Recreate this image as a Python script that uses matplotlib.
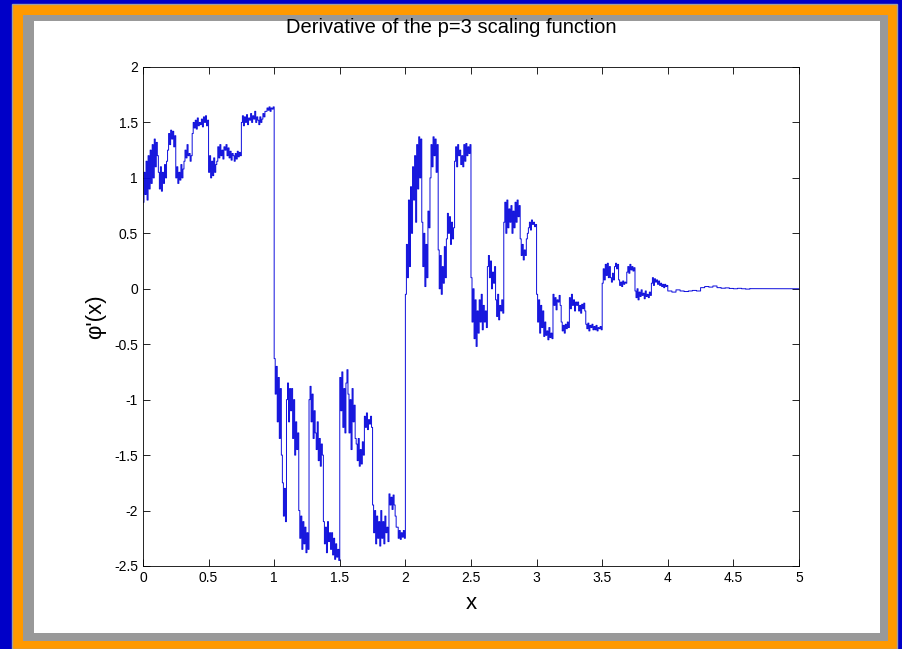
import matplotlib
matplotlib.use("Agg")
import matplotlib.pyplot as plt
import numpy as np
from matplotlib.patches import Rectangle

plt.rcParams["font.family"] = ["Liberation Sans", "DejaVu Sans"]

# samples per unit step on [0, 4), eight samples per 1/16 of x
STEPS_PER_UNIT = 128

dphi_0_1 = [
    0.78, 1.05, 0.85, 1.15, 0.80, 1.20, 0.90, 1.25,
    0.95, 1.30, 1.00, 1.35, 1.10, 1.32, 1.20, 1.05,
    0.90, 1.10, 0.88, 1.05, 0.95, 1.12, 1.00, 1.15,
    1.25, 1.40, 1.30, 1.43, 1.35, 1.42, 1.28, 1.38,
    1.00, 1.10, 0.95, 1.05, 0.98, 1.12, 1.00, 1.08,
    1.15, 1.25, 1.18, 1.30, 1.20, 1.22, 1.15, 1.20,
    1.40, 1.50, 1.45, 1.52, 1.44, 1.54, 1.47, 1.50,
    1.48, 1.53, 1.46, 1.55, 1.50, 1.56, 1.47, 1.52,
    1.05, 1.20, 1.00, 1.15, 1.02, 1.18, 1.05, 1.12,
    1.15, 1.28, 1.18, 1.30, 1.20, 1.25, 1.17, 1.28,
    1.25, 1.30, 1.20, 1.27, 1.18, 1.24, 1.16, 1.22,
    1.20, 1.15, 1.22, 1.17, 1.24, 1.19, 1.23, 1.20,
    1.50, 1.56, 1.47, 1.55, 1.50, 1.57, 1.48, 1.54,
    1.52, 1.58, 1.50, 1.56, 1.53, 1.60, 1.50, 1.55,
    1.52, 1.48, 1.55, 1.50, 1.53, 1.58, 1.55, 1.60,
    1.60, 1.63, 1.61, 1.64, 1.60, 1.63, 1.62, 1.64,
]

dphi_1_2 = [
    -0.63, -0.95, -0.70, -1.20, -0.80, -1.35, -0.90, -1.50,
    -1.75, -2.05, -1.80, -2.10, -1.00, -0.85, -1.20, -0.90,
    -1.10, -0.90, -1.35, -1.00, -1.50, -1.20, -1.45, -1.30,
    -2.00, -2.25, -2.05, -2.35, -2.10, -2.30, -2.15, -2.38,
    -2.20, -2.35, -1.00, -0.88, -1.20, -0.95, -1.35, -1.10,
    -1.30, -1.45, -1.20, -1.55, -1.35, -1.60, -1.40, -1.50,
    -2.10, -2.30, -2.15, -2.38, -2.10, -2.28, -2.20, -2.35,
    -2.20, -2.40, -2.25, -2.44, -2.30, -2.42, -2.35, -2.45,
    -0.80, -1.10, -0.75, -1.25, -0.90, -1.30, -0.85, -0.73,
    -0.95, -1.30, -1.00, -1.45, -0.90, -1.20, -1.05, -1.35,
    -1.40, -1.55, -1.35, -1.60, -1.45, -1.58, -1.38, -1.50,
    -1.15, -1.25, -1.12, -1.27, -1.18, -1.22, -1.15, -1.25,
    -1.95, -2.20, -2.00, -2.30, -2.05, -2.25, -2.10, -2.32,
    -2.00, -2.25, -2.10, -2.30, -2.05, -2.20, -2.15, -2.28,
    -1.85, -1.95, -1.88, -1.99, -1.86, -1.95, -2.05, -2.15,
    -2.15, -2.25, -2.18, -2.26, -2.20, -2.24, -2.18, -2.25,
]

dphi_2_3 = [
    -0.05, 0.40, 0.10, 0.80, 0.20, 0.92, 0.50, 1.10,
    0.80, 1.20, 0.60, 1.30, 0.90, 1.37, 1.00, 1.35,
    0.60, 0.20, 0.50, 0.02, 0.40, 0.10, 0.70, 0.55,
    1.00, 1.30, 1.10, 1.37, 1.20, 1.35, 1.05, 1.30,
    0.35, 0.00, 0.30, -0.05, 0.20, 0.05, 0.38, 0.10,
    0.45, 0.68, 0.50, 0.65, 0.40, 0.60, 0.45, 0.55,
    1.15, 1.28, 1.10, 1.30, 1.20, 1.25, 1.12, 1.20,
    1.10, 1.30, 1.15, 1.31, 1.20, 1.28, 1.22, 1.30,
    0.10, -0.30, 0.00, -0.45, -0.10, -0.52, -0.20, -0.40,
    -0.10, -0.30, -0.05, -0.37, -0.15, -0.30, -0.20, -0.35,
    0.20, 0.30, 0.10, 0.25, 0.00, 0.15, 0.05, 0.20,
    -0.10, -0.25, -0.05, -0.28, -0.15, -0.20, -0.10, -0.22,
    0.60, 0.78, 0.50, 0.80, 0.55, 0.72, 0.60, 0.75,
    0.50, 0.70, 0.55, 0.78, 0.60, 0.80, 0.65, 0.75,
    0.45, 0.30, 0.40, 0.26, 0.35, 0.30, 0.45, 0.50,
    0.55, 0.60, 0.53, 0.62, 0.58, 0.60, 0.56, 0.58,
]

dphi_3_4 = [
    -0.05, -0.30, -0.10, -0.40, -0.15, -0.35, -0.20, -0.43,
    -0.30, -0.42, -0.38, -0.46, -0.35, -0.44, -0.40, -0.45,
    -0.05, -0.15, -0.08, -0.19, -0.10, -0.12, -0.06, -0.15,
    -0.30, -0.38, -0.33, -0.40, -0.32, -0.36, -0.30, -0.35,
    -0.08, -0.18, -0.05, -0.15, -0.10, -0.20, -0.12, -0.15,
    -0.12, -0.20, -0.15, -0.22, -0.14, -0.18, -0.13, -0.20,
    -0.32, -0.36, -0.31, -0.38, -0.33, -0.35, -0.32, -0.37,
    -0.34, -0.37, -0.33, -0.38, -0.35, -0.36, -0.34, -0.37,
    0.05, 0.18, 0.08, 0.22, 0.12, 0.23, 0.10, 0.20,
    0.10, 0.06, 0.14, 0.08, 0.20, 0.23, 0.18, 0.22,
    0.08, 0.03, 0.06, 0.02, 0.07, 0.04, 0.06, 0.05,
    0.15, 0.20, 0.14, 0.22, 0.17, 0.20, 0.16, 0.19,
    -0.02, -0.08, 0.00, -0.10, -0.03, -0.07, -0.01, -0.06,
    -0.04, -0.09, -0.02, -0.07, -0.05, -0.08, -0.03, -0.06,
    0.05, 0.10, 0.03, 0.09, 0.06, 0.08, 0.04, 0.07,
    0.03, 0.05, 0.02, 0.04, 0.01, 0.04, 0.02, 0.03,
]

# the tail on [4, 5] is sampled at 1/32
TAIL_STEPS = 32
dphi_4_5 = [
    -0.020, -0.030, -0.010, -0.020, -0.025, -0.020, -0.015, -0.020,
    0.010, 0.020, 0.015, 0.025, 0.010, 0.005, 0.008, 0.003,
    0.000, 0.004, 0.000, -0.003, 0.001, 0.000, 0.000, 0.000,
    0.000, 0.000, 0.000, 0.000, 0.000, 0.000, 0.000, 0.000, 0.000,
]

main = np.array(dphi_0_1 + dphi_1_2 + dphi_2_3 + dphi_3_4)
x_main = np.arange(len(main)) / STEPS_PER_UNIT
tail = np.array(dphi_4_5)
x_tail = 4 + np.arange(len(tail)) / TAIL_STEPS

x = np.concatenate([x_main, x_tail])
y = np.concatenate([main, tail])

fig = plt.figure(figsize=(9.02, 6.49), dpi=100, facecolor="#0000c8")

# nested border: orange, grey, then the white panel
fig.patches.append(Rectangle((0.0133, 0.0), 0.9812, 0.9938, transform=fig.transFigure,
                             facecolor="#ff9900", edgecolor="#a0a0a0", lw=1, zorder=-3))
fig.patches.append(Rectangle((0.0255, 0.0123), 0.959, 0.9646, transform=fig.transFigure,
                             facecolor="#999999", edgecolor="none", zorder=-2))
fig.patches.append(Rectangle((0.0377, 0.0247), 0.938, 0.943, transform=fig.transFigure,
                             facecolor="white", edgecolor="none", zorder=-1))

ax = fig.add_axes([0.1585, 0.1279, 0.7273, 0.7689])
ax.set_zorder(2)
ax.plot(x, y, color="#0c0cdc", lw=0.7, drawstyle="steps-post")
ax.set_xlim(0, 5)
ax.set_ylim(-2.5, 2)
ax.set_xticks(np.arange(0, 5.01, 0.5))
ax.set_yticks(np.arange(-2.5, 2.01, 0.5))
ax.set_xticklabels(["0", "0.5", "1", "1.5", "2", "2.5", "3", "3.5", "4", "4.5", "5"])
ax.set_yticklabels(["-2.5", "-2", "-1.5", "-1", "-0.5", "0", "0.5", "1", "1.5", "2"])
ax.tick_params(direction="in", top=True, right=True, labelsize=10, length=5, width=0.6)
for s in ax.spines.values():
    s.set_linewidth(0.6)

# title sits at the top of the white panel, centred on the page
fig.text(0.5, 0.958, "Derivative of the p=3 scaling function", fontsize=14.5,
         ha="center", va="center", zorder=3)
ax.set_xlabel("x", fontsize=16, labelpad=6)
ax.set_ylabel("\u03c6'(x)", fontsize=16, labelpad=6)

fig.savefig("out.png", dpi=100, facecolor=fig.get_facecolor())
